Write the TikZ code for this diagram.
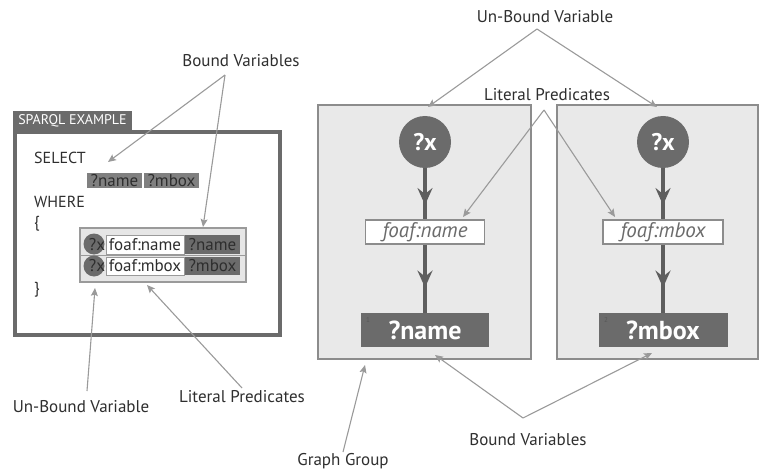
\documentclass[tikz,border=0pt]{standalone}
\usepackage{fontspec}
\setmainfont{PT Sans}
\usetikzlibrary{arrows.meta,decorations.markings}
\definecolor{dk}{HTML}{6B6B6B}
\definecolor{edgecol}{HTML}{5E5E5E}
\definecolor{grpfill}{HTML}{E9E9E9}
\definecolor{grpline}{HTML}{8C8C8C}
\definecolor{labcol}{HTML}{9A9A9A}
\definecolor{txt}{HTML}{2E2E2E}
\definecolor{qfill}{HTML}{808080}
\definecolor{tfill}{HTML}{E6E6E6}
\begin{document}
\begin{tikzpicture}[x=1pt,y=-1pt,
  lbl/.style={text=txt, font=\fontsize{17}{19}\selectfont, inner sep=0pt},
  labarrow/.style={draw=labcol, line width=1.1pt, -{Stealth[length=8pt,width=7pt,inset=1.5pt]}},
  grp/.style={draw=grpline, fill=grpfill, line width=2pt, minimum width=#1, inner sep=0pt},
  var/.style={circle, fill=dk, text=white, font=\bfseries\fontsize{24}{26}\selectfont, minimum size=52pt, inner sep=0pt},
  pred/.style={draw=grpline, fill=white, line width=1.3pt, text=dk, font=\itshape\fontsize{21}{23}\selectfont, minimum width=#1, minimum height=24pt, inner sep=0pt},
  res/.style={fill=dk, text=white, font=\bfseries\fontsize{26}{28}\selectfont, minimum width=#1, minimum height=34pt, inner sep=0pt},
  edge/.style={color=edgecol, line width=3.5pt, postaction={decorate},
    decoration={markings, mark=at position #1 with {\arrow{Stealth[length=17pt,width=15pt,inset=6pt]}}}},
  qtext/.style={text=txt, font=\fontsize{16}{18}\selectfont, inner sep=0pt, anchor=west},
  qvar/.style={fill=qfill, text=txt, font=\fontsize{17}{19}\selectfont, minimum width=55pt, minimum height=15pt, inner sep=0pt},
  tcell/.style={draw=labcol, fill=white, line width=0.8pt, text=txt, font=\fontsize{17}{19}\selectfont, minimum width=78pt, minimum height=19pt, inner sep=0pt},
  tvar/.style={fill=dk, text=txt, font=\fontsize{17}{19}\selectfont, minimum width=55pt, minimum height=19pt, inner sep=0pt},
  tcirc/.style={circle, fill=dk, minimum size=21pt, inner sep=0pt},
  ttext/.style={text=txt, font=\fontsize{17}{19}\selectfont, inner sep=0pt}
]
\useasboundingbox (0,0) rectangle (759,473);

% ---------------- SPARQL example ----------------
\node[draw=dk, line width=4pt, minimum width=265pt, minimum height=203pt, inner sep=0pt] (sp) at (147.5,233.5) {};
\node[fill=dk, text=white, font=\fontsize{14}{16}\selectfont, minimum width=119pt, minimum height=19pt, inner sep=0pt] (tab) at (72.5,120.5) {SPARQL EXAMPLE};

\node[qtext] (sel) at (34,158) {SELECT};
\node[qvar] (qn) at (114.5,180.5) {?name};
\node[qvar] (qm) at (171.5,180.5) {?mbox};
\node[qtext] (whr) at (34,202) {WHERE};
\node[qtext] (lb) at (34,224) {\{};
\node[qtext] (rb) at (34,290) {\}};

\node[draw=labcol, fill=tfill, line width=1.2pt, minimum width=166pt, minimum height=54pt, inner sep=0pt] (tb) at (163,255) {};
\draw[draw=labcol, line width=1pt] (tb.west |- 0,255.5) coordinate (dl) -- (tb.east |- 0,255.5) coordinate (dr);
\node[tcirc] (c1) at (94,244) {};
\node[tcirc] (c2) at (94,266) {};
\node[ttext] (x1t) at (97,244.5) {?x};
\node[ttext] (x2t) at (97,266) {?x};
\node[tcell] (fn) at (145,244.5) {foaf:name};
\node[tvar] (vn) at (212.5,244.5) {?name};
\node[tcell, minimum height=18pt] (fm) at (145,266) {foaf:mbox};
\node[tvar, minimum height=18pt] (vm) at (212.5,266) {?mbox};

% ---------------- Graph groups ----------------
\node[grp=213pt, minimum height=254pt] (g1) at (424.5,232) {};
\node[grp=201pt, minimum height=254pt] (g2) at (657.5,232) {};

\node[var] (x1) at (425,142) {?x};
\node[var] (x2) at (663,142) {?x};
\node[pred=119pt] (p1) at (425,232) {foaf:name};
\node[pred=120pt] (p2) at (663,232) {foaf:mbox};
\node[res=128pt] (r1) at (425,330) {?name};
\node[res=129pt] (r2) at (663,330) {?mbox};
\node[text=txt!80, font=\fontsize{7}{8}\selectfont, inner sep=0pt] (s1) at (368,320) {1};
\node[text=txt!80, font=\fontsize{7}{8}\selectfont, inner sep=0pt] (s2) at (606,320) {2};

\draw[edge=0.72] (x1) -- (p1);
\draw[edge=0.63] (p1) -- (r1);
\draw[edge=0.72] (x2) -- (p2);
\draw[edge=0.63] (p2) -- (r2);

% ---------------- Labels ----------------
\node[lbl] (bvTop) at (241,61) {Bound Variables};
\node[lbl] (ubTop) at (545,17) {Un-Bound Variable};
\node[lbl] (lpTop) at (547,95) {Literal Predicates};
\node[lbl] (ubBot) at (81,407) {Un-Bound Variable};
\node[lbl] (lpBot) at (242,397) {Literal Predicates};
\node[lbl] (gg) at (343,461) {Graph Group};
\node[lbl] (bvBot) at (528,440) {Bound Variables};

\coordinate (bvA) at (225,75);
\coordinate (bvT1) at (108,162);
\coordinate (bvT2) at (203,227);
\draw[labarrow] (bvA) -- (bvT1);
\draw[labarrow] (bvA) -- (bvT2);

\coordinate (ubA) at (537,29);
\coordinate (ubT1) at (428,107);
\coordinate (ubT2) at (657,107);
\draw[labarrow] (ubA) -- (ubT1);
\draw[labarrow] (ubA) -- (ubT2);

\coordinate (lpA) at (544,110);
\coordinate (lpT1) at (463,217);
\coordinate (lpT2) at (615,217);
\draw[labarrow] (lpA) -- (lpT1);
\draw[labarrow] (lpA) -- (lpT2);

\coordinate (ubB) at (87,391);
\coordinate (ubBT) at (95,288);
\draw[labarrow] (ubB) -- (ubBT);

\coordinate (lpB) at (242,388);
\coordinate (lpBT) at (147,285);
\draw[labarrow] (lpB) -- (lpBT);

\coordinate (ggB) at (343,452);
\coordinate (ggT) at (365,365);
\draw[labarrow] (ggB) -- (ggT);

\coordinate (bvB) at (523,418);
\coordinate (bvBT1) at (435,355);
\coordinate (bvBT2) at (652,353);
\draw[labarrow] (bvB) -- (bvBT1);
\draw[labarrow] (bvB) -- (bvBT2);
\end{tikzpicture}
\end{document}
